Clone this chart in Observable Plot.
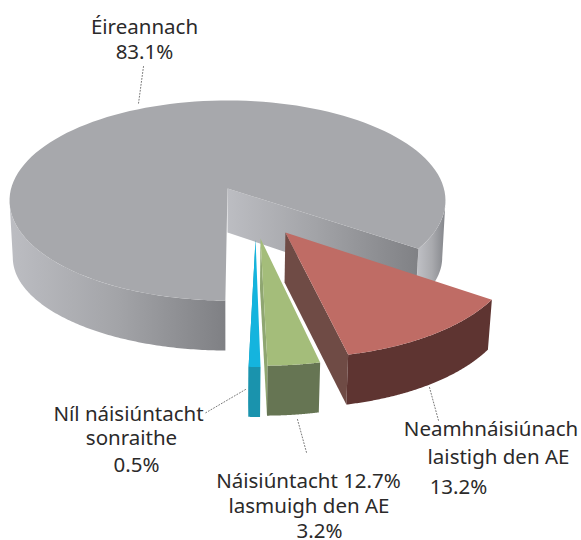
<!DOCTYPE html>
<html><head><meta charset="utf-8">
<style>html,body{margin:0;padding:0;background:#fff}svg{display:block}</style>
<script src="https://cdn.jsdelivr.net/npm/d3@7"></script>
<script src="https://cdn.jsdelivr.net/npm/@observablehq/plot@0.6"></script>
</head><body><div id="chart"></div>
<script>
// Data
const categories = ["Éireannach", "Níl náisiúntacht sonraithe", "Náisiúntacht lasmuigh den AE", "Neamhnáisiúnach laistigh den AE"];
const shares = [83.1, 0.5, 3.2, 13.2];
// Labels
const labelText = ["Éireannach","83.1%","Níl náisiúntacht","sonraithe","0.5%","Náisiúntacht 12.7%","lasmuigh den AE","3.2%","Neamhnáisiúnach","laistigh den AE","13.2%"];
const labelX = [144,144,128,131,136,308,308.5,319,490.5,498,458];
const labelY = [33,58,420,444,471,487,512,537,435,463,493];
// Leader lines
const leaderX1 = [143,245,297,429], leaderY1 = [66,389,419,387];
const leaderX2 = [138,204,306,438], leaderY2 = [103,413,452,420];
// Styling of slices
const topColor = ["#a7a8ac","#14b4de","#a4bd7a","#bf6c65"];
const sideColor = [null,"#1a93ad","#8fa671","#6f4b45"];
const frontColor = [null,"#1a93ad","#667553","#5e3431"];
const offsetU = [0,0.122,0.1437,0.254];
const offsetV = [0,0.487,0.478,0.4235];
const startAdjust = [0,-2.4,-1.14,0];
const endAdjust = [0,-1.44,0,0];
const depthPx = [44,50,50,50];
const gapDeg = 55.3;

// Perspective projection of the unit disc
const cx=227, cy=188, a=98.6, c=216.4, b=0.12, shrink=0.985;
const rimCy=200, baseCy=257, baseScaleY=0.93;
const rad=d=>d*Math.PI/180;
function proj(u,v,depth,fixed){
  const s=1/(1-b*v);
  const x0=c*u*s, y0=a*v*s;
  if(depth==null) return {x:cx+x0,y:cy+y0};
  return {x:cx+x0*shrink,y:cy+y0+(fixed?depth:depth*s)};
}
const disc=(t,i,d)=>proj(offsetU[i]+Math.sin(rad(t)),offsetV[i]+Math.cos(rad(t)),d,i>0);
const apex=(i,d)=>proj(offsetU[i],offsetV[i],d,i>0);
const arc=(t0,t1,i,d)=>d3.range(0,121).map(k=>disc(t0+(t1-t0)*k/120,i,d));
// lower rim of the main slice's outer wall
const baseArc=(t0,t1)=>arc(t0,t1,0).map(p=>({x:cx+(p.x-cx)*shrink,y:baseCy+(p.y-rimCy)*baseScaleY}));

// Angles derive from the shares: the three minor slices share the gap
const minor=d3.sum(shares.slice(1));
const ranges=[[gapDeg,359.5]];
{let t=0;for(let i=1;i<shares.length;i++){const w=shares[i]/minor*gapDeg;ranges.push([t+startAdjust[i],t+w+endAdjust[i]]);t+=w;}}

const poly=(pts,fill)=>Plot.line(pts,{x:"x",y:"y",fill,stroke:"none"});
function gradient(id,stops){
  return `<linearGradient id="${id}" x1="0" x2="1" y1="0" y2="0">`+stops.map(([o,s])=>`<stop offset="${o}" stop-color="${s}"/>`).join("")+`</linearGradient>`;
}
const defs=()=>{const g=document.createElementNS("http://www.w3.org/2000/svg","defs");
  g.innerHTML=gradient("front",[[0,"#bcbdc2"],[0.5,"#a3a4a8"],[1,"#7f8084"]])
   +gradient("cut",[[0,"#bcbdc2"],[0.45,"#a3a4a8"],[1,"#808185"]])
   +gradient("outer",[[0,"#c2c3c8"],[0.55,"#a9aaae"],[1,"#83858a"]]);
  return g;};

const marks=[defs];
const [m0,m1]=ranges[0];
const D=depthPx[0];
// main slice: outer wall right, front wall, cut wall, top
marks.push(poly([...arc(m0,83,0),...baseArc(83,m0)],"url(#outer)"));
marks.push(poly([...arc(277,m1,0),...baseArc(m1,277)],"url(#front)"));
marks.push(poly([apex(0),disc(m0,0),disc(m0,0,D),apex(0,D)],"url(#cut)"));
marks.push(poly([apex(0),...arc(m0,m1,0)],topColor[0]));
// minor slices
for(let i=1;i<shares.length;i++){
  const [t0,t1]=ranges[i], d=depthPx[i];
  marks.push(poly([apex(i),disc(t0,i),disc(t0,i,d),apex(i,d)],sideColor[i]));
  marks.push(poly([...arc(t0,t1,i),...arc(t1,t0,i,d)],frontColor[i]));
  marks.push(poly([apex(i),...arc(t0,t1,i)],topColor[i]));
}
// leaders
leaderX1.forEach((x,i)=>marks.push(Plot.line([{x,y:leaderY1[i]},{x:leaderX2[i],y:leaderY2[i]}],{x:"x",y:"y",stroke:"#555",strokeWidth:0.8,strokeDasharray:"1,2"})));
// labels
marks.push(Plot.text(labelText,{x:(d,i)=>labelX[i],y:(d,i)=>labelY[i],text:d=>d,textAnchor:"middle",lineAnchor:"bottom",fontSize:20.5,fill:"#2b2a2a"}));

const chart=Plot.plot({width:581,height:540,margin:0,
  style:{fontFamily:"'Noto Sans',sans-serif",background:"#fff",overflow:"visible"},
  x:{domain:[0,581],range:[0,581],axis:null},
  y:{domain:[0,540],range:[0,540],axis:null},
  marks});
document.getElementById("chart").append(chart);
</script></body></html>
